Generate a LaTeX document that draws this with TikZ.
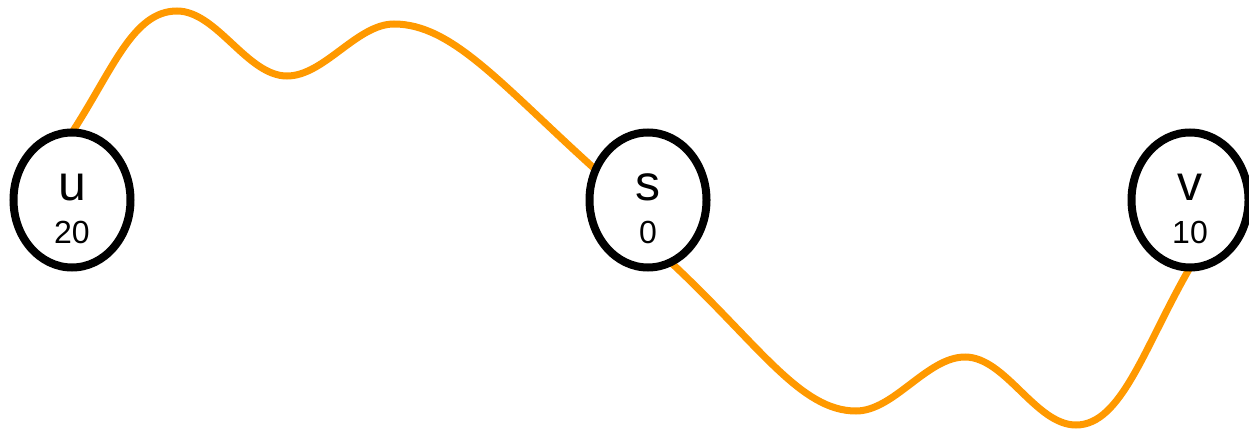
\documentclass[tikz,border=0pt]{standalone}
\usepackage{fontspec}
\setmainfont{Liberation Sans}
\usetikzlibrary{shapes.geometric,backgrounds}
\definecolor{edgeorange}{RGB}{255,153,0}
\tikzset{
  vert/.style={ellipse, draw=black, line width=8pt, fill=white, minimum width=117pt, minimum height=135pt, inner sep=0pt, outer sep=0pt},
  vname/.style={anchor=base, inner sep=0pt, font=\fontsize{50}{50}\selectfont},
  vval/.style={anchor=base, inner sep=0pt, font=\fontsize{32}{32}\selectfont},
  wire/.style={draw=edgeorange, line width=7pt}
}
\begin{document}
\begin{tikzpicture}[x=1pt,y=1pt]
\useasboundingbox (0,0) rectangle (1249,-433);
\node[vert] (u) at (72,-200) {};
\node[vert] (s) at (648,-200) {};
\node[vert] (v) at (1190,-200) {};
\node[vname] (ul) at (72,-200) {u};
\node[vval] (un) at (72,-243) {20};
\node[vname] (sl) at (648,-200) {s};
\node[vval] (sn) at (648,-243) {0};
\node[vname] (vl) at (1190,-200) {v};
\node[vval] (vn) at (1190,-243) {10};
\coordinate (a1) at (177,-11);
\coordinate (a2) at (287,-76);
\coordinate (a3) at (394,-24);
\coordinate (b1) at (856,-411);
\coordinate (b2) at (965,-357);
\coordinate (b3) at (1076,-425);
\begin{pgfonlayer}{background}
\draw[wire] (u.north) to[out=57,in=180,out looseness=1.2,in looseness=0.7] (a1)
  to[out=0,in=180,looseness=0.8] (a2)
  to[out=0,in=180,looseness=0.8] (a3)
  to[out=0,in=138,out looseness=0.6,in looseness=1.3] (s.150);
\draw[wire] (s.-70) to[out=-43,in=180,out looseness=1.3,in looseness=0.6] (b1)
  to[out=0,in=180,looseness=0.8] (b2)
  to[out=0,in=180,looseness=0.8] (b3)
  to[out=0,in=-120,out looseness=0.6,in looseness=1.2] (v.south);
\end{pgfonlayer}
\end{tikzpicture}
\end{document}
